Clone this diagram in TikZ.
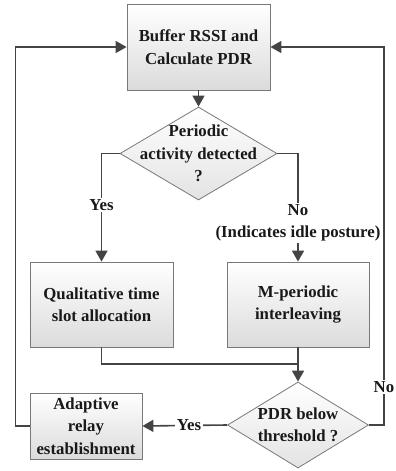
\documentclass[tikz,border=0pt]{standalone}
\usepackage{fontspec}
\setmainfont{Liberation Serif}
\usetikzlibrary{shapes.geometric,arrows.meta}
\definecolor{flowline}{RGB}{68,68,68}
\definecolor{flowedge}{RGB}{120,120,120}

\begin{document}
\begin{tikzpicture}[x=1pt,y=-1pt,
    font=\fontsize{16.8}{22.5}\selectfont\bfseries,
    block/.style={draw=flowedge, line width=0.8pt, top color=white, bottom color=gray!28, inner sep=0pt},
    decision/.style={diamond, draw=flowedge, line width=0.8pt, top color=white, bottom color=gray!22, inner sep=0pt},
    txt/.style={align=center, inner sep=0pt, text=black!90},
    lbl/.style={fill=white, inner sep=1.5pt, align=center, text=black!90},
    arr/.style={draw=flowline, line width=1.6pt, -{Triangle[length=11pt,width=12pt]}},
    ln/.style={draw=flowline, line width=1.6pt}]
    \useasboundingbox (0,0) rectangle (396,471);

    % Processing flow
    \node[block, minimum width=143pt, minimum height=86pt] (buf) at (198.5,47) {};
    \node[txt] at (buf) {Buffer RSSI and\\Calculate PDR};

    \node[decision, minimum width=157pt, minimum height=93pt] (per) at (198.5,153.5) {};
    \node[txt] at (per) {Periodic\\activity detected\\?};

    \node[block, minimum width=143pt, minimum height=85pt] (qual) at (101.5,304.5) {};
    \node[txt] at (qual) {Qualitative time\\slot allocation};

    \node[block, minimum width=142pt, minimum height=85pt] (mper) at (298,304.5) {};
    \node[txt] at (mper) {M-periodic\\interleaving};

    \node[decision, minimum width=141pt, minimum height=86pt] (pdr) at (298,425) {};
    \node[txt] at (pdr) {PDR below\\threshold ?};

    \node[block, minimum width=112pt, minimum height=66pt] (relay) at (86,426) {};
    \node[txt] at (relay) {Adaptive\\relay\\establishment};

    \coordinate (join) at (298,364);

    % Arrows
    \draw[arr] (buf.south) -- (per.north);
    \draw[arr] (per.west) -| node[lbl, pos=0.74] {Yes} (qual.north);
    \draw[arr] (per.east) -| node[lbl, pos=0.82] {No\\(Indicates idle posture)} (mper.north);
    \draw[ln] (qual.south) |- (join);
    \draw[arr] (mper.south) -- (pdr.north);
    \draw[arr] (pdr.west) -- node[lbl, pos=0.45] {Yes} (relay.east);
    \draw[arr] (relay.west) -- ++(-14,0) |- (buf.west);
    \draw[arr] (pdr.east) -- ++(15,0) |- node[lbl, pos=0.05] {No} (buf.east);
\end{tikzpicture}
\end{document}
